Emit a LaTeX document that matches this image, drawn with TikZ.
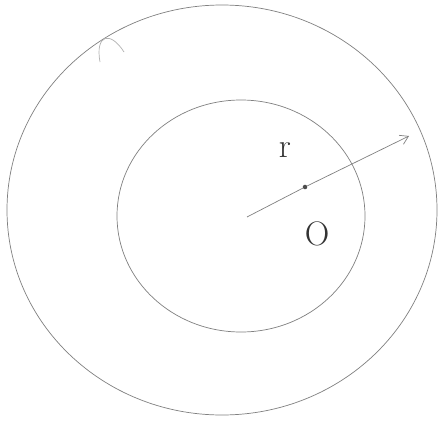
\documentclass[tikz,border=0pt]{standalone}
\usetikzlibrary{arrows.meta}
\begin{document}
\begin{tikzpicture}[x=1pt,y=-1pt,
  pencil/.style={draw=black!50,line width=0.7pt},
  lbl/.style={text=black!80,font=\fontsize{34}{34}\selectfont}]
\useasboundingbox (0,0) rectangle (446,423);
\fill[white] (0,0) rectangle (446,423);
\draw[pencil] (222,210) ellipse [x radius=215, y radius=205];
\draw[pencil,black!30] (100,62) .. controls (95,35) and (110,30) .. (124,52);
\draw[pencil] (241,216) ellipse [x radius=124, y radius=116];
\coordinate (c) at (247,217);
\coordinate (tip) at (409,136);
\node[circle,fill=black!70,inner sep=1.6pt] (dot) at (305,187) {};
\draw[pencil,-{Straight Barb[length=8pt,width=10pt]}] (c) -- (dot) -- (tip);
\node[lbl] (r) at (285,150) {r};
\node[lbl] (o) at (317,234) {O};
\end{tikzpicture}
\end{document}
